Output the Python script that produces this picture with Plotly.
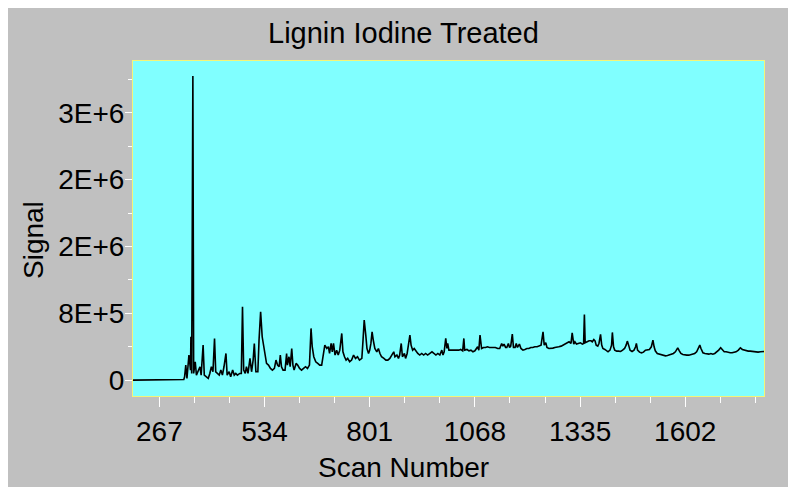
import plotly.graph_objects as go

# ---- data ----
scan_number = [
    200, 242, 243, 329, 331, 334, 337, 342, 346, 347, 349, 352, 354, 358, 361, 365, 370, 373, 376, 378,
    381, 386, 391, 395, 399, 403, 407, 410, 414, 419, 423, 427, 431, 436, 439, 444, 448, 453, 457, 461,
    465, 471, 475, 478, 481, 485, 488, 492, 497, 501, 505, 508, 512, 517, 520, 524, 528, 532, 536, 539,
    544, 549, 554, 559, 563, 567, 571, 574, 577, 581,
    586, 590, 592, 596, 599, 603, 606, 609, 614, 618, 623, 628, 633, 638, 643, 648, 652, 655, 659, 664,
    669, 674, 679, 683, 687, 692, 696, 699, 703, 706, 709, 713, 717, 721, 725, 730, 733, 737, 741, 745,
    750, 755, 760, 765, 770, 775, 781, 784, 787, 791, 794, 798, 801, 804, 807, 810, 814, 819, 823, 827,
    831, 837, 842, 847, 852, 857, 862, 865, 870, 874, 877, 881, 884, 889, 892, 896, 899, 903, 906, 910,
    914, 919, 923, 928, 933, 938, 943, 948, 953, 959, 964, 969, 974, 979,
    984, 987, 990, 994, 997, 999, 1002, 1007, 1012, 1017, 1022, 1027, 1032, 1037, 1040, 1042, 1048, 1053,
    1058, 1063, 1068, 1071, 1075, 1078, 1081, 1085, 1090, 1095, 1100, 1105, 1110, 1115, 1120, 1126, 1131,
    1136, 1139, 1142, 1146, 1149, 1153, 1156, 1159, 1163, 1166, 1170, 1173, 1176, 1181, 1185, 1190, 1195,
    1200, 1205, 1210, 1215, 1220, 1226, 1231, 1236, 1241, 1244, 1248, 1251, 1256, 1261, 1266, 1271, 1276,
    1281, 1287, 1292, 1297, 1302, 1307, 1312, 1315, 1319, 1322, 1326, 1331, 1336, 1341, 1344, 1346, 1348,
    1353, 1358, 1363, 1366, 1370, 1373, 1376, 1380, 1383, 1387, 1390, 1393, 1398,
    1406, 1411, 1415, 1417, 1420, 1423, 1428, 1433, 1438, 1443, 1448, 1452, 1455, 1459, 1462, 1467, 1472,
    1476, 1478, 1481, 1486, 1491, 1496, 1501, 1506, 1511, 1516, 1520, 1523, 1526, 1531, 1537, 1542, 1547,
    1552, 1557, 1562, 1567, 1572, 1577, 1581, 1583, 1587, 1591, 1596, 1601, 1606, 1611, 1616, 1621, 1626,
    1631, 1636, 1639, 1642, 1647, 1652, 1657, 1662, 1667, 1672, 1677, 1682, 1687, 1692, 1696, 1701, 1706,
    1711, 1716, 1721, 1726, 1731, 1737, 1742, 1747, 1752, 1757, 1762, 1767, 1772, 1777, 1782, 1787, 1793,
    1798, 1802,
]

signal = [
    0, 0, 8000, 8000, 40000, 180000, 20000, 300000, 120000, 519000, 80000, 3640000, 80000, 220000, 60000,
    100000, 160000, 60000, 280000, 419000,
    60000, 40000, 20000, 80000, 160000, 100000, 499000, 100000, 80000, 60000, 120000, 60000, 160000, 319000,
    60000, 100000, 40000, 120000, 60000, 80000,
    60000, 80000, 80000, 878000, 120000, 80000, 160000, 80000, 260000, 100000, 240000, 439000, 100000,
    100000, 479000, 818000, 519000, 379000, 280000, 200000,
    180000, 140000, 120000, 140000, 240000, 180000, 160000, 300000, 160000, 120000,
    120000, 319000, 180000, 280000, 160000, 379000, 180000, 120000, 200000, 180000, 140000, 120000, 140000,
    160000, 140000, 180000, 619000, 400000, 280000, 220000,
    200000, 180000, 180000, 280000, 419000, 379000, 400000, 319000, 439000, 339000, 439000, 300000, 359000,
    300000, 359000, 559000, 339000, 280000, 240000, 260000,
    220000, 240000, 300000, 260000, 280000, 240000, 260000, 479000, 719000, 539000, 379000, 319000, 359000,
    439000, 579000, 479000, 379000, 339000, 379000, 319000,
    280000, 260000, 240000, 240000, 260000, 300000, 339000, 280000, 300000, 260000, 300000, 439000, 280000,
    319000, 260000, 319000, 419000, 539000, 419000, 359000,
    379000, 339000, 319000, 300000, 319000, 300000, 319000, 300000, 319000, 339000, 319000, 300000, 319000,
    300000,
    359000, 300000, 339000, 499000, 379000, 439000, 359000, 359000, 351000, 359000, 351000, 359000, 367000,
    351000, 499000, 359000, 367000, 351000,
    359000, 339000, 351000, 367000, 399000, 359000, 539000, 379000, 391000, 391000, 399000, 391000, 391000,
    399000, 391000, 379000, 379000,
    439000, 407000, 431000, 391000, 391000, 439000, 391000, 407000, 551000, 391000, 391000, 439000, 391000,
    431000, 379000, 359000, 367000,
    379000, 379000, 391000, 391000, 399000, 399000, 407000, 419000, 579000, 419000, 447000, 391000, 379000,
    379000, 383000, 391000, 391000,
    399000, 407000, 419000, 431000, 439000, 459000, 439000, 567000, 431000, 459000, 431000, 439000, 447000,
    431000, 439000, 786000, 447000,
    459000, 471000, 471000, 459000, 487000, 471000, 419000, 407000, 439000, 547000, 419000, 379000, 367000,
    339000, 359000, 419000, 571000, 399000, 359000, 347000, 347000, 343000, 359000, 379000, 419000, 467000,
    407000, 359000, 343000, 359000,
    399000, 439000, 359000, 335000, 327000, 335000, 359000, 367000, 367000, 399000, 479000, 399000, 351000,
    319000, 311000, 303000, 295000,
    291000, 295000, 303000, 311000, 319000, 339000, 367000, 387000, 351000, 319000, 307000, 299000, 299000,
    299000, 303000, 307000, 319000,
    339000, 391000, 419000, 379000, 327000, 319000, 311000, 311000, 319000, 311000, 319000, 335000, 359000,
    387000, 359000, 339000, 339000,
    331000, 327000, 327000, 335000, 339000, 359000, 387000, 367000, 359000, 351000, 347000, 347000, 343000,
    339000, 335000, 335000, 339000,
    343000, 343000,
]

x_tick_values = [267, 534, 801, 1068, 1335, 1602]
x_tick_labels = ["267", "534", "801", "1068", "1335", "1602"]
x_minor_values = [356, 445, 623, 712, 890, 979, 1157, 1246, 1424, 1513, 1691, 1780]

y_tick_values = [0, 800000, 1600000, 2400000, 3200000]
y_tick_labels = ["0", "8E+5", "2E+6", "2E+6", "3E+6"]
y_minor_values = [400000, 1200000, 2000000, 2800000, 3600000]

title_text = "Lignin Iodine Treated"
x_title = "Scan Number"
y_title = "Signal"

# ---- figure ----
FONT = "Liberation Sans, Arial, sans-serif"
FS = 28
OFF = 8  # page body margin offset
W, H = 796, 487
ML, MT = 133 - OFF, 61 - OFF
PW, PH = 631, 335
MR, MB = W - ML - PW, H - MT - PH

fig = go.Figure()
fig.add_trace(go.Scatter(
    x=scan_number, y=signal, mode="lines",
    line=dict(color="black", width=1.6),
    hoverinfo="x+y", showlegend=False,
))

fig.update_layout(
    width=W, height=H,
    margin=dict(l=ML, r=MR, t=MT, b=MB, pad=0),
    paper_bgcolor="#C0C0C0",
    plot_bgcolor="#80FFFF",
    font=dict(family=FONT, size=FS, color="black"),
    showlegend=False,
)

fig.update_xaxes(
    range=[200, 1802],
    tickmode="array", tickvals=x_tick_values, ticktext=x_tick_labels,
    ticks="outside", ticklen=10, tickwidth=1, tickcolor="white",
    minor=dict(tickmode="array", tickvals=x_minor_values, ticks="outside",
               ticklen=6, tickwidth=1, tickcolor="white"),
    showgrid=False, zeroline=False,
    showline=True, linecolor="#F4F478", linewidth=1, mirror=True,
    tickfont=dict(family=FONT, size=FS, color="black"),
)
fig.update_yaxes(
    range=[-190000, 3820000],
    tickmode="array", tickvals=y_tick_values, ticktext=y_tick_labels,
    ticks="outside", ticklen=7, tickwidth=1, tickcolor="white",
    minor=dict(tickmode="array", tickvals=y_minor_values, ticks="outside",
               ticklen=4, tickwidth=1, tickcolor="white"),
    showgrid=False, zeroline=False,
    showline=True, linecolor="#F4F478", linewidth=1, mirror=True,
    ticklabelstandoff=-5,
    tickfont=dict(family=FONT, size=FS, color="black"),
)

# titles as annotations, positioned in page pixels relative to the plot area
def px_x(page_x):
    return (page_x - OFF - ML) / PW

def px_y(page_y):
    return (MT + PH - (page_y - OFF)) / PH

fig.add_annotation(text=title_text, xref="paper", yref="paper",
                   x=px_x(403), y=px_y(33),
                   xanchor="center", yanchor="middle", showarrow=False,
                   font=dict(family=FONT, size=29, color="black"))
fig.add_annotation(text=x_title, xref="paper", yref="paper",
                   x=px_x(403), y=px_y(467),
                   xanchor="center", yanchor="middle", showarrow=False,
                   font=dict(family=FONT, size=FS, color="black"))
fig.add_annotation(text=y_title, xref="paper", yref="paper",
                   x=px_x(33), y=px_y(240), textangle=-90,
                   xanchor="center", yanchor="middle", showarrow=False,
                   font=dict(family=FONT, size=FS, color="black"))

fig.write_html("out.html")
